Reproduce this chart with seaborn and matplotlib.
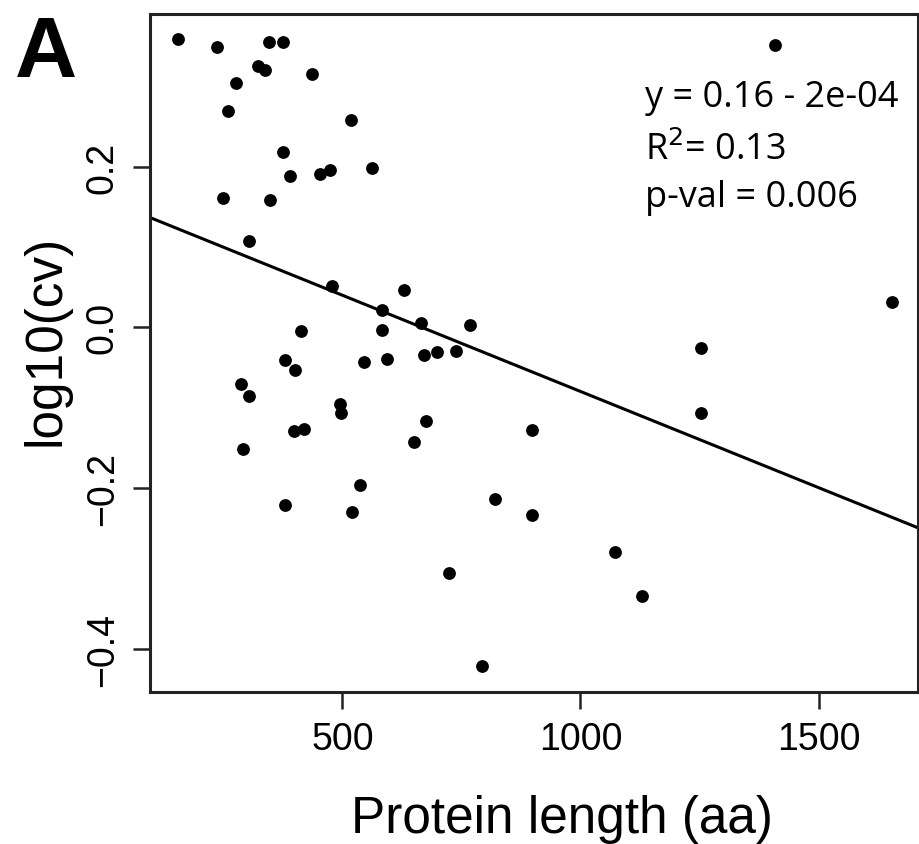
import seaborn as sns
import matplotlib.pyplot as plt
import pandas as pd
import numpy as np

# protein length (aa) and log10(cv)
protein_length = [155, 237, 346, 376, 322, 337, 436, 277, 259, 518,
                  376, 390, 452, 473, 562, 249, 348, 304, 1408, 478,
                  629, 583, 666, 769, 413, 583, 379, 401, 545, 593,
                  671, 699, 739, 288, 304, 494, 497, 399, 419, 675,
                  650, 292, 899, 1654, 1253, 1252, 536, 379, 521, 821,
                  899, 724, 793, 1073, 1130]
log10_cv = [0.359, 0.349, 0.355, 0.356, 0.325, 0.321, 0.316, 0.304, 0.269, 0.258,
            0.219, 0.189, 0.191, 0.196, 0.199, 0.161, 0.159, 0.108, 0.352, 0.051,
            0.046, 0.021, 0.006, 0.003, -0.005, -0.003, -0.041, -0.053, -0.043, -0.040,
            -0.035, -0.031, -0.030, -0.070, -0.086, -0.096, -0.107, -0.129, -0.126, -0.116,
            -0.143, -0.152, -0.128, 0.032, -0.026, -0.107, -0.196, -0.221, -0.230, -0.214,
            -0.234, -0.306, -0.422, -0.280, -0.335]

x_ticks = [500, 1000, 1500]
y_ticks = [-0.4, -0.2, 0.0, 0.2]
y_ticklabels = ['\u22120.4', '\u22120.2', '0.0', '0.2']
stats_lines = ["y = 0.16 - 2e-04", "R$^2$= 0.13", "p-val = 0.006"]

data = pd.DataFrame({'length': protein_length, 'cv': log10_cv})

sns.set_style("ticks")
plt.rcParams['font.family'] = ['Liberation Sans', 'DejaVu Sans']
plt.rcParams['text.color'] = 'black'
plt.rcParams['axes.labelcolor'] = 'black'
plt.rcParams['xtick.color'] = 'black'
plt.rcParams['ytick.color'] = 'black'

fig = plt.figure(figsize=(9.2, 8.45), dpi=100)
ax = fig.add_axes([0.163, 0.180, 0.835, 0.802])
ax.set_xlim(96, 1709)
ax.set_ylim(-0.454, 0.390)

sns.regplot(data=data, x='length', y='cv', ax=ax, ci=None, truncate=False,
            color='black',
            scatter_kws={'s': 85, 'linewidths': 0, 'alpha': 1},
            line_kws={'linewidth': 2.2})

ax.set_xticks(x_ticks)
ax.set_yticks(y_ticks)
ax.set_yticklabels(y_ticklabels, rotation=90, va='center')
ax.tick_params(axis='both', labelsize=27, length=12, width=1.8, color='#222222')
ax.tick_params(axis='x', pad=9)
ax.tick_params(axis='y', pad=9)

for sp in ax.spines.values():
    sp.set_visible(True)
    sp.set_linewidth(2.2)
    sp.set_color('#222222')

ax.set_xlabel('Protein length (aa)', fontsize=37)
ax.xaxis.set_label_coords(0.536, -0.206)
ax.xaxis.label.set_va('baseline')
ax.set_ylabel('log10(cv)', fontsize=37, labelpad=10)
ax.yaxis.label.set_y(0.52)

# fit statistics, one line each
for line, base in zip(stats_lines, [107, 160, 207]):
    fig.text(645 / 920, 1 - base / 845, line, fontsize=26,
             family=['Open Sans', 'DejaVu Sans'], va='baseline', ha='left')

fig.text(15 / 920, 1 - 77 / 845, 'A', fontsize=62, fontweight='bold', va='baseline', ha='left')

plt.savefig('out.png', dpi=100)
